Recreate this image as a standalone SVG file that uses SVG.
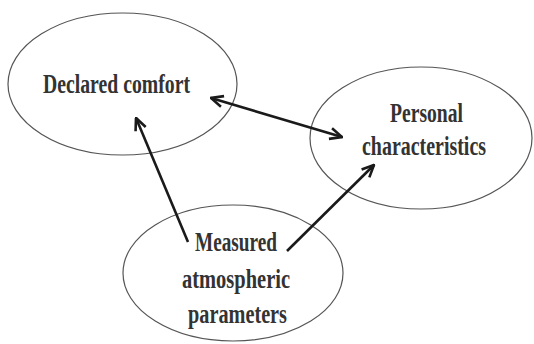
<svg xmlns="http://www.w3.org/2000/svg" width="534" height="344" viewBox="0 0 534 344">
<style>
.node ellipse{fill:#fff;stroke:#555;stroke-width:1.2}
.node text{font-family:"Liberation Serif",serif;font-weight:bold;font-size:27px;fill:#333;text-anchor:start}
.conn line{stroke:#1a1a1a;stroke-width:2.6;fill:none}
</style>
<defs>
<marker id="ah" viewBox="0 0 14 14" refX="13" refY="7" markerWidth="14" markerHeight="14" markerUnits="userSpaceOnUse" orient="auto-start-reverse">
<path d="M1,1.5 L13,7 L1,12.5" fill="none" stroke="#1a1a1a" stroke-width="2.6"/>
</marker>
</defs>
<rect width="534" height="344" fill="#fff"/>
<g id="declared" class="node">
<ellipse cx="122.5" cy="84" rx="114.5" ry="71"/>
<text x="43" y="93" textLength="147" lengthAdjust="spacingAndGlyphs">Declared comfort</text>
</g>
<g id="personal" class="node">
<ellipse cx="421" cy="138" rx="111" ry="71"/>
<text x="390" y="122" textLength="73" lengthAdjust="spacingAndGlyphs">Personal</text>
<text x="362" y="155" textLength="124" lengthAdjust="spacingAndGlyphs">characteristics</text>
</g>
<g id="measured" class="node">
<ellipse cx="233" cy="273" rx="110" ry="68"/>
<text x="195" y="251" textLength="82" lengthAdjust="spacingAndGlyphs">Measured</text>
<text x="182" y="288" textLength="108" lengthAdjust="spacingAndGlyphs">atmospheric</text>
<text x="188" y="323" textLength="99" lengthAdjust="spacingAndGlyphs">parameters</text>
</g>
<g id="connectors" class="conn">
<line x1="211" y1="98" x2="342" y2="137" marker-start="url(#ah)" marker-end="url(#ah)"/>
<line x1="188" y1="242" x2="136" y2="118" marker-end="url(#ah)"/>
<line x1="287" y1="251" x2="374" y2="165" marker-end="url(#ah)"/>
</g>
</svg>
